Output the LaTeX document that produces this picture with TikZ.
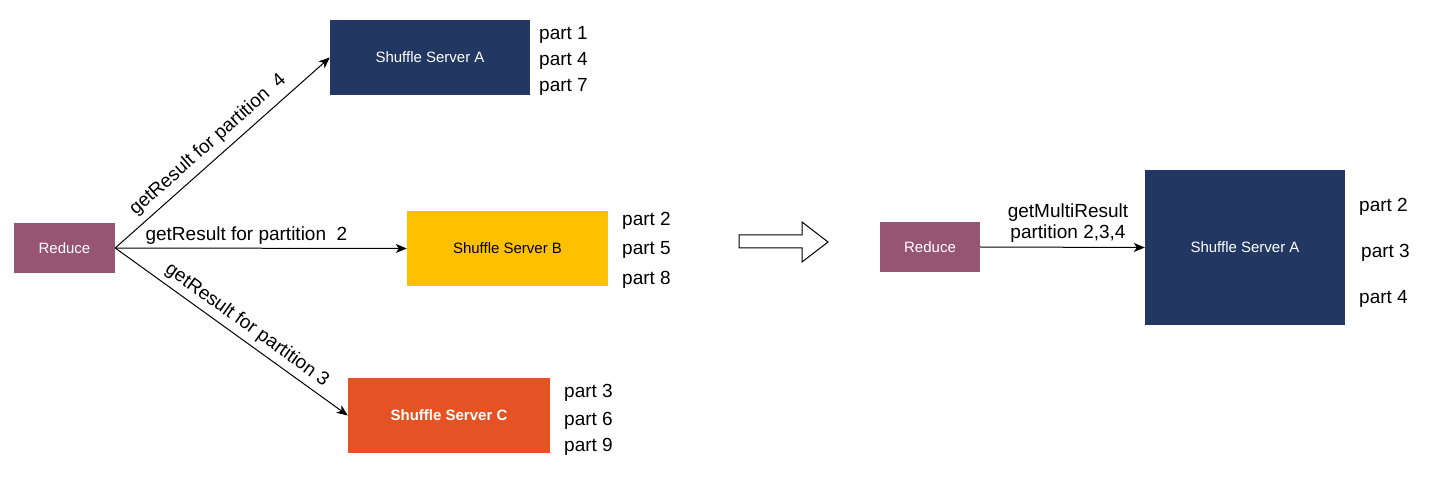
\documentclass[tikz,border=0pt]{standalone}
\usepackage{fontspec}
\setmainfont{Liberation Sans}
\usetikzlibrary{arrows.meta}
\definecolor{navy}{RGB}{34,56,99}
\definecolor{plum}{RGB}{150,85,114}
\definecolor{amber}{RGB}{255,192,0}
\definecolor{rust}{RGB}{229,83,36}
\tikzset{
  box/.style={rectangle, inner sep=0pt, font=\fontsize{15}{18}\selectfont},
  parttext/.style={anchor=west, inner sep=0pt, font=\fontsize{19}{22}\selectfont},
  edgelabel/.style={font=\fontsize{19}{22}\selectfont, inner sep=3pt},
  conn/.style={line width=1pt, -{Stealth[length=11pt,width=9pt,inset=3pt]}}
}
\begin{document}
\begin{tikzpicture}[x=1pt,y=-1pt]
\useasboundingbox (0,0) rectangle (1436,478);
% left side
\node[box, fill=navy, text=white, minimum width=200pt, minimum height=75pt] (sa) at (430,57.5) {Shuffle Server A};
\node[box, fill=plum, text=white, minimum width=101pt, minimum height=50pt] (rl) at (64.5,248) {Reduce};
\node[box, fill=amber, text=black, minimum width=201pt, minimum height=75pt] (sb) at (507.5,248.5) {Shuffle Server B};
\node[box, fill=rust, text=white, minimum width=202pt, minimum height=75pt, font=\fontsize{15}{18}\selectfont\bfseries] (sc) at (449,415.5) {Shuffle Server C};

\node[parttext] (a1) at (539,35) {part 1};
\node[parttext] (a4) at (539,61) {part 4};
\node[parttext] (a7) at (539,87) {part 7};
\node[parttext] (b2) at (622,221) {part 2};
\node[parttext] (b5) at (622,250) {part 5};
\node[parttext] (b8) at (622,280) {part 8};
\node[parttext] (c3) at (564,393) {part 3};
\node[parttext] (c6) at (564,421) {part 6};
\node[parttext] (c9) at (564,447) {part 9};

\draw[conn] (rl.east) -- node[edgelabel, sloped, above, pos=0.48, inner sep=6pt] {getResult for partition\ \ 4} (sa.west);
\draw[conn] (rl.east) -- node[edgelabel, above, pos=0.45] {getResult for partition\ \ 2} (sb.west);
\draw[conn] (rl.east) -- node[edgelabel, sloped, above, pos=0.53, inner sep=5pt] {getResult for partition 3} (sc.west);

% block arrow
\draw[line width=1pt, fill=white] (739,235) -- (802,235) -- (802,222) -- (828,242) -- (802,262) -- (802,248) -- (739,248) -- cycle;

% right side
\node[box, fill=plum, text=white, minimum width=100pt, minimum height=50pt] (rr) at (930,247) {Reduce};
\node[box, fill=navy, text=white, minimum width=200pt, minimum height=155pt] (sar) at (1245,247.5) {Shuffle Server A};
\draw[conn] (rr.east) -- (sar.west);
\node[edgelabel, align=center, inner sep=0pt] (ml) at (1068,223) {getMultiResult\\[-1pt]partition 2,3,4};

\node[parttext] (r2) at (1359,207) {part 2};
\node[parttext] (r3) at (1361,253) {part 3};
\node[parttext] (r4) at (1359,299) {part 4};
\end{tikzpicture}
\end{document}
